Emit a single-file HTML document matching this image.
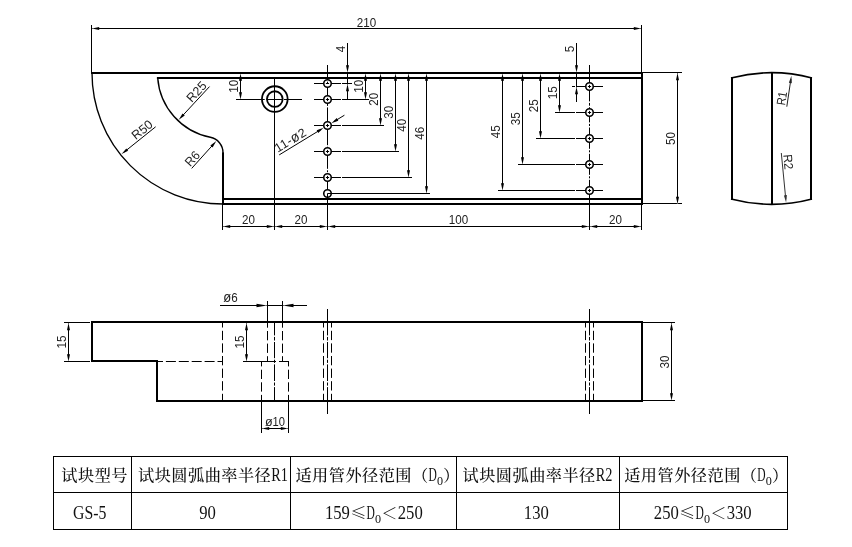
<!DOCTYPE html>
<html lang="zh-CN">
<head>
<meta charset="utf-8">
<title>试块 GS-5</title>
<style>
html,body{margin:0;padding:0;background:#fff;}
body{width:852px;height:547px;overflow:hidden;}
svg{display:block;will-change:transform;}
text{white-space:pre;}
</style>
</head>
<body>
<svg width="852" height="547" viewBox="0 0 852 547">
<rect x="0" y="0" width="852" height="547" fill="#fff"/>
<path d="M92,73 A131.0,131.0 0 0 0 223,204" stroke="#000" stroke-width="1.35" fill="none"/>
<path d="M157.69,78 A65.5,65.5 0 0 0 210.34,137.26 A15.7,15.7 0 0 1 223.00,152.67" stroke="#000" stroke-width="1.4" fill="none"/>
<line x1="91.5" y1="25" x2="91.5" y2="72" stroke="#000" stroke-width="1"/>
<line x1="641.5" y1="25" x2="641.5" y2="72" stroke="#000" stroke-width="1"/>
<line x1="92" y1="28.5" x2="641" y2="28.5" stroke="#000" stroke-width="1"/>
<text transform="translate(366.50 26.60) scale(0.93 1)" font-family='"Liberation Sans", sans-serif' font-size="12.5" fill="#222" text-anchor="middle">210</text>
<circle cx="274.80" cy="99.10" r="12.85" stroke="#000" stroke-width="1.8" fill="none"/>
<circle cx="274.80" cy="99.10" r="7.85" stroke="#000" stroke-width="1.8" fill="none"/>
<line x1="236" y1="99.5" x2="264.7" y2="99.5" stroke="#000" stroke-width="1"/>
<line x1="266.5" y1="99.5" x2="282.2" y2="99.5" stroke="#000" stroke-width="1"/>
<line x1="284" y1="99.5" x2="302" y2="99.5" stroke="#000" stroke-width="1"/>
<line x1="274.5" y1="79" x2="274.5" y2="230" stroke="#000" stroke-width="1"/>
<line x1="240.5" y1="73" x2="240.5" y2="99" stroke="#000" stroke-width="1"/>
<text transform="translate(238.20 86.30) rotate(-90.00) scale(0.93 1)" font-family='"Liberation Sans", sans-serif' font-size="12.5" fill="#222" text-anchor="middle">10</text>
<line x1="327.5" y1="65" x2="327.5" y2="230" stroke="#000" stroke-width="1"/>
<line x1="589.5" y1="65" x2="589.5" y2="230" stroke="#000" stroke-width="1"/>
<rect x="326.5" y="105.9" width="2" height="1.5" fill="#fff"/>
<rect x="326.5" y="145.2" width="2" height="1.5" fill="#fff"/>
<rect x="326.5" y="168.8" width="2" height="1.5" fill="#fff"/>
<rect x="326.5" y="172.2" width="2" height="1.5" fill="#fff"/>
<rect x="588.5" y="101.4" width="2" height="1.5" fill="#fff"/>
<rect x="588.5" y="105.7" width="2" height="1.5" fill="#fff"/>
<rect x="588.5" y="122.4" width="2" height="1.5" fill="#fff"/>
<rect x="588.5" y="126" width="2" height="1.5" fill="#fff"/>
<rect x="588.5" y="148.8" width="2" height="1.5" fill="#fff"/>
<rect x="588.5" y="152.3" width="2" height="1.5" fill="#fff"/>
<rect x="588.5" y="174.8" width="2" height="1.5" fill="#fff"/>
<rect x="588.5" y="178.3" width="2" height="1.5" fill="#fff"/>
<line x1="314" y1="83.5" x2="341" y2="83.5" stroke="#000" stroke-width="1"/>
<line x1="314" y1="99.5" x2="341" y2="99.5" stroke="#000" stroke-width="1"/>
<line x1="314" y1="125.5" x2="341" y2="125.5" stroke="#000" stroke-width="1"/>
<line x1="314" y1="151.5" x2="341" y2="151.5" stroke="#000" stroke-width="1"/>
<line x1="314" y1="177.5" x2="341" y2="177.5" stroke="#000" stroke-width="1"/>
<line x1="576" y1="86.5" x2="603" y2="86.5" stroke="#000" stroke-width="1"/>
<line x1="576" y1="112.5" x2="603" y2="112.5" stroke="#000" stroke-width="1"/>
<line x1="576" y1="138.5" x2="603" y2="138.5" stroke="#000" stroke-width="1"/>
<line x1="576" y1="164.5" x2="603" y2="164.5" stroke="#000" stroke-width="1"/>
<line x1="576" y1="190.5" x2="603" y2="190.5" stroke="#000" stroke-width="1"/>
<circle cx="327.5" cy="83.5" r="3.75" stroke="#000" stroke-width="1.6" fill="#fff"/>
<path d="M325.9,83.5 H329.1 M327.5,81.7 V83.5" stroke="#000" stroke-width="1" fill="none"/>
<circle cx="327.5" cy="99.5" r="3.75" stroke="#000" stroke-width="1.6" fill="#fff"/>
<path d="M325.9,99.5 H329.1 M327.5,97.9 V101.1" stroke="#000" stroke-width="1" fill="none"/>
<circle cx="327.5" cy="125.5" r="3.75" stroke="#000" stroke-width="1.6" fill="#fff"/>
<path d="M325.9,125.5 H329.1 M327.5,123.9 V127.1" stroke="#000" stroke-width="1" fill="none"/>
<circle cx="327.5" cy="151.5" r="3.75" stroke="#000" stroke-width="1.6" fill="#fff"/>
<path d="M325.9,151.5 H329.1 M327.5,149.9 V153.1" stroke="#000" stroke-width="1" fill="none"/>
<circle cx="327.5" cy="177.5" r="3.75" stroke="#000" stroke-width="1.6" fill="#fff"/>
<path d="M325.9,177.5 H329.1 M327.5,175.9 V179.1" stroke="#000" stroke-width="1" fill="none"/>
<circle cx="327.5" cy="193.5" r="3.75" stroke="#000" stroke-width="1.6" fill="#fff"/>
<path d="M327.5,193.5 H331.5 M327.5,193.5 V197.5" stroke="#000" stroke-width="1" fill="none"/>
<circle cx="589.5" cy="86.5" r="3.75" stroke="#000" stroke-width="1.6" fill="#fff"/>
<path d="M587.9,86.5 H591.1 M589.5,84.9 V88.1" stroke="#000" stroke-width="1" fill="none"/>
<circle cx="589.5" cy="112.5" r="3.75" stroke="#000" stroke-width="1.6" fill="#fff"/>
<path d="M587.9,112.5 H591.1 M589.5,110.9 V114.1" stroke="#000" stroke-width="1" fill="none"/>
<circle cx="589.5" cy="138.5" r="3.75" stroke="#000" stroke-width="1.6" fill="#fff"/>
<path d="M587.9,138.5 H591.1 M589.5,136.9 V140.1" stroke="#000" stroke-width="1" fill="none"/>
<circle cx="589.5" cy="164.5" r="3.75" stroke="#000" stroke-width="1.6" fill="#fff"/>
<path d="M587.9,164.5 H591.1 M589.5,162.9 V166.1" stroke="#000" stroke-width="1" fill="none"/>
<circle cx="589.5" cy="190.5" r="3.75" stroke="#000" stroke-width="1.6" fill="#fff"/>
<path d="M587.9,190.5 H591.1 M589.5,188.9 V192.1" stroke="#000" stroke-width="1" fill="none"/>
<line x1="342" y1="99.5" x2="369" y2="99.5" stroke="#000" stroke-width="1"/>
<line x1="365.5" y1="73" x2="365.5" y2="99" stroke="#000" stroke-width="1"/>
<text transform="translate(363.20 86.25) rotate(-90.00) scale(0.93 1)" font-family='"Liberation Sans", sans-serif' font-size="12.5" fill="#222" text-anchor="middle">10</text>
<line x1="342" y1="125.5" x2="384" y2="125.5" stroke="#000" stroke-width="1"/>
<line x1="380.5" y1="73" x2="380.5" y2="125" stroke="#000" stroke-width="1"/>
<text transform="translate(378.20 99.25) rotate(-90.00) scale(0.93 1)" font-family='"Liberation Sans", sans-serif' font-size="12.5" fill="#222" text-anchor="middle">20</text>
<line x1="342" y1="151.5" x2="399" y2="151.5" stroke="#000" stroke-width="1"/>
<line x1="395.5" y1="73" x2="395.5" y2="151" stroke="#000" stroke-width="1"/>
<text transform="translate(393.20 112.25) rotate(-90.00) scale(0.93 1)" font-family='"Liberation Sans", sans-serif' font-size="12.5" fill="#222" text-anchor="middle">30</text>
<line x1="342" y1="177.5" x2="412" y2="177.5" stroke="#000" stroke-width="1"/>
<line x1="408.5" y1="73" x2="408.5" y2="177" stroke="#000" stroke-width="1"/>
<text transform="translate(406.20 125.25) rotate(-90.00) scale(0.93 1)" font-family='"Liberation Sans", sans-serif' font-size="12.5" fill="#222" text-anchor="middle">40</text>
<line x1="331" y1="193.5" x2="430" y2="193.5" stroke="#000" stroke-width="1"/>
<line x1="426.5" y1="73" x2="426.5" y2="193" stroke="#000" stroke-width="1"/>
<text transform="translate(424.20 133.25) rotate(-90.00) scale(0.93 1)" font-family='"Liberation Sans", sans-serif' font-size="12.5" fill="#222" text-anchor="middle">46</text>
<line x1="342" y1="83.5" x2="352" y2="83.5" stroke="#000" stroke-width="1"/>
<line x1="347.5" y1="43" x2="347.5" y2="100" stroke="#000" stroke-width="1"/>
<text transform="translate(345.00 49.00) rotate(-90.00) scale(0.93 1)" font-family='"Liberation Sans", sans-serif' font-size="12.5" fill="#222" text-anchor="middle">4</text>
<line x1="555" y1="112.5" x2="575" y2="112.5" stroke="#000" stroke-width="1"/>
<line x1="559.5" y1="73" x2="559.5" y2="112" stroke="#000" stroke-width="1"/>
<text transform="translate(557.20 92.75) rotate(-90.00) scale(0.93 1)" font-family='"Liberation Sans", sans-serif' font-size="12.5" fill="#222" text-anchor="middle">15</text>
<line x1="536" y1="138.5" x2="575" y2="138.5" stroke="#000" stroke-width="1"/>
<line x1="540.5" y1="73" x2="540.5" y2="138" stroke="#000" stroke-width="1"/>
<text transform="translate(538.20 105.75) rotate(-90.00) scale(0.93 1)" font-family='"Liberation Sans", sans-serif' font-size="12.5" fill="#222" text-anchor="middle">25</text>
<line x1="518" y1="164.5" x2="575" y2="164.5" stroke="#000" stroke-width="1"/>
<line x1="522.5" y1="73" x2="522.5" y2="164" stroke="#000" stroke-width="1"/>
<text transform="translate(520.20 118.75) rotate(-90.00) scale(0.93 1)" font-family='"Liberation Sans", sans-serif' font-size="12.5" fill="#222" text-anchor="middle">35</text>
<line x1="498" y1="190.5" x2="575" y2="190.5" stroke="#000" stroke-width="1"/>
<line x1="502.5" y1="73" x2="502.5" y2="190" stroke="#000" stroke-width="1"/>
<text transform="translate(500.20 131.75) rotate(-90.00) scale(0.93 1)" font-family='"Liberation Sans", sans-serif' font-size="12.5" fill="#222" text-anchor="middle">45</text>
<line x1="572" y1="86.5" x2="575" y2="86.5" stroke="#000" stroke-width="1"/>
<line x1="576.5" y1="43" x2="576.5" y2="102" stroke="#000" stroke-width="1"/>
<text transform="translate(574.00 49.00) rotate(-90.00) scale(0.93 1)" font-family='"Liberation Sans", sans-serif' font-size="12.5" fill="#222" text-anchor="middle">5</text>
<line x1="222.5" y1="205" x2="222.5" y2="230" stroke="#000" stroke-width="1"/>
<line x1="641.5" y1="205" x2="641.5" y2="230" stroke="#000" stroke-width="1"/>
<line x1="223" y1="226.5" x2="641" y2="226.5" stroke="#000" stroke-width="1"/>
<text transform="translate(248.50 224.20) scale(0.93 1)" font-family='"Liberation Sans", sans-serif' font-size="12.5" fill="#222" text-anchor="middle">20</text>
<text transform="translate(301.00 224.20) scale(0.93 1)" font-family='"Liberation Sans", sans-serif' font-size="12.5" fill="#222" text-anchor="middle">20</text>
<text transform="translate(458.50 224.20) scale(0.93 1)" font-family='"Liberation Sans", sans-serif' font-size="12.5" fill="#222" text-anchor="middle">100</text>
<text transform="translate(615.50 224.20) scale(0.93 1)" font-family='"Liberation Sans", sans-serif' font-size="12.5" fill="#222" text-anchor="middle">20</text>
<line x1="643" y1="72.5" x2="682" y2="72.5" stroke="#000" stroke-width="1"/>
<line x1="643" y1="203.5" x2="682" y2="203.5" stroke="#000" stroke-width="1"/>
<line x1="677.5" y1="73" x2="677.5" y2="204" stroke="#000" stroke-width="1"/>
<text transform="translate(675.20 138.50) rotate(-90.00) scale(0.93 1)" font-family='"Liberation Sans", sans-serif' font-size="12.5" fill="#222" text-anchor="middle">50</text>
<line x1="209.50" y1="86.60" x2="180.92" y2="117.45" stroke="#000" stroke-width="1"/>
<text transform="translate(207.36 86.26) rotate(312.81)" font-family='"Liberation Sans", sans-serif' font-size="12.5" fill="#222" text-anchor="end">R25</text>
<line x1="155.65" y1="126.80" x2="124.10" y2="152.10" stroke="#000" stroke-width="1"/>
<text transform="translate(153.74 126.02) rotate(321.28)" font-family='"Liberation Sans", sans-serif' font-size="12.5" fill="#222" text-anchor="end">R50</text>
<line x1="191.70" y1="168.40" x2="214.16" y2="143.48" stroke="#000" stroke-width="1"/>
<text transform="translate(190.36 167.20) rotate(-47.98) scale(0.97 1)" font-family='"Liberation Sans", sans-serif' font-size="12.5" fill="#222" text-anchor="start">R6</text>
<line x1="279.20" y1="154.90" x2="320.88" y2="129.53" stroke="#000" stroke-width="1"/>
<line x1="334.12" y1="121.47" x2="344.41" y2="115.21" stroke="#000" stroke-width="1"/>
<text transform="translate(277.85 152.68) rotate(-31.33)" font-family='"Liberation Sans", sans-serif' font-size="12.5" fill="#222" text-anchor="start" letter-spacing="0.4">11-<tspan font-size="14">ø</tspan>2</text>
<path d="M731,78 A158.53,158.53 0 0 1 812,78" stroke="#000" stroke-width="1.6" fill="none"/>
<path d="M731,199 A158.53,158.53 0 0 0 812,199" stroke="#000" stroke-width="1.6" fill="none"/>
<line x1="786.80" y1="106.70" x2="790.93" y2="78.97" stroke="#222" stroke-width="1"/>
<text transform="translate(785.11 105.84) rotate(-81.53) scale(0.86 1)" font-family='"Liberation Sans", sans-serif' font-size="12.5" fill="#222" text-anchor="start">R1</text>
<line x1="781.30" y1="153.00" x2="785.79" y2="199.21" stroke="#333" stroke-width="1"/>
<text transform="translate(783.28 154.82) rotate(84.45) scale(0.95 1)" font-family='"Liberation Sans", sans-serif' font-size="12.5" fill="#222" text-anchor="start">R2</text>
<path d="M157,401 L642,401 L642,322 L92,322 L92,361 L157,361 Z" stroke="#000" stroke-width="2" fill="none"/>
<line x1="158" y1="361.5" x2="222" y2="361.5" stroke="#000" stroke-width="1" stroke-dasharray="10 2.9" stroke-dashoffset="5"/>
<line x1="222.5" y1="323" x2="222.5" y2="400" stroke="#000" stroke-width="1" stroke-dasharray="9.3 3.3" stroke-dashoffset="4.80"/>
<line x1="267.5" y1="323" x2="267.5" y2="361" stroke="#000" stroke-width="1" stroke-dasharray="9.3 3.3" stroke-dashoffset="4.60"/>
<line x1="282.5" y1="323" x2="282.5" y2="361" stroke="#000" stroke-width="1" stroke-dasharray="9.3 3.3" stroke-dashoffset="4.60"/>
<line x1="261.5" y1="361" x2="261.5" y2="400" stroke="#000" stroke-width="1" stroke-dasharray="9.3 3.3" stroke-dashoffset="3.90"/>
<line x1="288.5" y1="361" x2="288.5" y2="400" stroke="#000" stroke-width="1" stroke-dasharray="9.3 3.3" stroke-dashoffset="3.90"/>
<line x1="243" y1="361.5" x2="276" y2="361.5" stroke="#000" stroke-width="1"/>
<line x1="279" y1="361.5" x2="289" y2="361.5" stroke="#000" stroke-width="1"/>
<line x1="274.5" y1="323" x2="274.5" y2="400" stroke="#000" stroke-width="1"/>
<rect x="273.5" y="335.4" width="2" height="1.5" fill="#fff"/>
<rect x="273.5" y="340.5" width="2" height="1.5" fill="#fff"/>
<rect x="273.5" y="358.2" width="2" height="1.5" fill="#fff"/>
<rect x="273.5" y="362.9" width="2" height="1.5" fill="#fff"/>
<rect x="273.5" y="381" width="2" height="1.5" fill="#fff"/>
<rect x="273.5" y="385.6" width="2" height="1.5" fill="#fff"/>
<line x1="267.5" y1="301" x2="267.5" y2="321" stroke="#000" stroke-width="1"/>
<line x1="282.5" y1="301" x2="282.5" y2="321" stroke="#000" stroke-width="1"/>
<line x1="220" y1="305.5" x2="307" y2="305.5" stroke="#000" stroke-width="1"/>
<text transform="translate(230.50 302.30) scale(0.93 1)" font-family='"Liberation Sans", sans-serif' font-size="12.5" fill="#222" text-anchor="middle"><tspan font-size="14">ø</tspan>6</text>
<line x1="246.5" y1="323" x2="246.5" y2="361" stroke="#000" stroke-width="1"/>
<text transform="translate(244.20 342.00) rotate(-90.00) scale(0.93 1)" font-family='"Liberation Sans", sans-serif' font-size="12.5" fill="#222" text-anchor="middle">15</text>
<line x1="261.5" y1="402" x2="261.5" y2="433" stroke="#000" stroke-width="1"/>
<line x1="288.5" y1="402" x2="288.5" y2="433" stroke="#000" stroke-width="1"/>
<line x1="262" y1="428.5" x2="288" y2="428.5" stroke="#000" stroke-width="1"/>
<text transform="translate(275.00 426.30) scale(0.93 1)" font-family='"Liberation Sans", sans-serif' font-size="12" fill="#222" text-anchor="middle"><tspan font-size="13.5">ø</tspan>10</text>
<line x1="64" y1="322.5" x2="90" y2="322.5" stroke="#000" stroke-width="1"/>
<line x1="64" y1="361.5" x2="90" y2="361.5" stroke="#000" stroke-width="1"/>
<line x1="68.5" y1="323" x2="68.5" y2="361" stroke="#000" stroke-width="1"/>
<text transform="translate(66.20 342.00) rotate(-90.00) scale(0.93 1)" font-family='"Liberation Sans", sans-serif' font-size="12.5" fill="#222" text-anchor="middle">15</text>
<line x1="327.5" y1="309" x2="327.5" y2="414" stroke="#000" stroke-width="1"/>
<rect x="326.5" y="335.4" width="2" height="1.5" fill="#fff"/>
<rect x="326.5" y="340.5" width="2" height="1.5" fill="#fff"/>
<rect x="326.5" y="358.2" width="2" height="1.5" fill="#fff"/>
<rect x="326.5" y="362.9" width="2" height="1.5" fill="#fff"/>
<rect x="326.5" y="381" width="2" height="1.5" fill="#fff"/>
<rect x="326.5" y="385.6" width="2" height="1.5" fill="#fff"/>
<line x1="323.5" y1="323" x2="323.5" y2="400" stroke="#000" stroke-width="1" stroke-dasharray="9.3 3.3" stroke-dashoffset="4.80"/>
<line x1="331.5" y1="323" x2="331.5" y2="400" stroke="#000" stroke-width="1" stroke-dasharray="9.3 3.3" stroke-dashoffset="4.80"/>
<line x1="589.5" y1="309" x2="589.5" y2="414" stroke="#000" stroke-width="1"/>
<rect x="588.5" y="335.4" width="2" height="1.5" fill="#fff"/>
<rect x="588.5" y="340.5" width="2" height="1.5" fill="#fff"/>
<rect x="588.5" y="358.2" width="2" height="1.5" fill="#fff"/>
<rect x="588.5" y="362.9" width="2" height="1.5" fill="#fff"/>
<rect x="588.5" y="381" width="2" height="1.5" fill="#fff"/>
<rect x="588.5" y="385.6" width="2" height="1.5" fill="#fff"/>
<line x1="585.5" y1="323" x2="585.5" y2="400" stroke="#000" stroke-width="1" stroke-dasharray="9.3 3.3" stroke-dashoffset="4.80"/>
<line x1="593.5" y1="323" x2="593.5" y2="400" stroke="#000" stroke-width="1" stroke-dasharray="9.3 3.3" stroke-dashoffset="4.80"/>
<line x1="643" y1="322.5" x2="675" y2="322.5" stroke="#000" stroke-width="1"/>
<line x1="643" y1="400.5" x2="675" y2="400.5" stroke="#000" stroke-width="1"/>
<line x1="671.5" y1="323" x2="671.5" y2="400" stroke="#000" stroke-width="1"/>
<text transform="translate(669.20 362.00) rotate(-90.00) scale(0.93 1)" font-family='"Liberation Sans", sans-serif' font-size="12.5" fill="#222" text-anchor="middle">30</text>
<line x1="53" y1="456.5" x2="788" y2="456.5" stroke="#000" stroke-width="1"/>
<line x1="53" y1="492.5" x2="788" y2="492.5" stroke="#000" stroke-width="1"/>
<line x1="53" y1="529.5" x2="788" y2="529.5" stroke="#000" stroke-width="1"/>
<line x1="53.5" y1="456" x2="53.5" y2="530" stroke="#000" stroke-width="1"/>
<line x1="131.5" y1="456" x2="131.5" y2="530" stroke="#000" stroke-width="1"/>
<line x1="290.5" y1="456" x2="290.5" y2="530" stroke="#000" stroke-width="1"/>
<line x1="456.5" y1="456" x2="456.5" y2="530" stroke="#000" stroke-width="1"/>
<line x1="619.5" y1="456" x2="619.5" y2="530" stroke="#000" stroke-width="1"/>
<line x1="787.5" y1="456" x2="787.5" y2="530" stroke="#000" stroke-width="1"/>
<text x="61.33" y="480.90" font-family='"Liberation Serif", "Noto Serif CJK SC", serif' font-size="16.2" letter-spacing="0.467" fill="#111" font-weight="500">试块型号</text>
<text x="138.03" y="480.90" font-family='"Liberation Serif", "Noto Serif CJK SC", serif' font-size="16.2" letter-spacing="0.467" fill="#111" font-weight="500">试块圆弧曲率半径</text>
<text transform="translate(271.14 480.90) scale(0.7847 1)" x="0" y="0" font-family='"Liberation Serif", "Noto Serif CJK SC", serif' font-size="18.2" fill="#111">R1</text>
<text x="295.43" y="480.90" font-family='"Liberation Serif", "Noto Serif CJK SC", serif' font-size="16.2" letter-spacing="0.467" fill="#111" font-weight="500">适用管外径范围（</text>
<text transform="translate(428.54 480.90) scale(0.6342 1)" x="0" y="0" font-family='"Liberation Serif", "Noto Serif CJK SC", serif' font-size="18.2" fill="#111">D</text>
<text transform="translate(437.07 485.00) scale(0.9 1)" x="0" y="0" font-family='"Liberation Serif", "Noto Serif CJK SC", serif' font-size="13.5" fill="#111">0</text>
<text x="443.30" y="480.90" font-family='"Liberation Serif", "Noto Serif CJK SC", serif' font-size="16.2" letter-spacing="0.467" fill="#111" font-weight="500">）</text>
<text x="462.53" y="480.90" font-family='"Liberation Serif", "Noto Serif CJK SC", serif' font-size="16.2" letter-spacing="0.467" fill="#111" font-weight="500">试块圆弧曲率半径</text>
<text transform="translate(595.64 480.90) scale(0.7847 1)" x="0" y="0" font-family='"Liberation Serif", "Noto Serif CJK SC", serif' font-size="18.2" fill="#111">R2</text>
<text x="624.23" y="480.90" font-family='"Liberation Serif", "Noto Serif CJK SC", serif' font-size="16.2" letter-spacing="0.467" fill="#111" font-weight="500">适用管外径范围（</text>
<text transform="translate(757.34 480.90) scale(0.6342 1)" x="0" y="0" font-family='"Liberation Serif", "Noto Serif CJK SC", serif' font-size="18.2" fill="#111">D</text>
<text transform="translate(765.87 485.00) scale(0.9 1)" x="0" y="0" font-family='"Liberation Serif", "Noto Serif CJK SC", serif' font-size="13.5" fill="#111">0</text>
<text x="772.10" y="480.90" font-family='"Liberation Serif", "Noto Serif CJK SC", serif' font-size="16.2" letter-spacing="0.467" fill="#111" font-weight="500">）</text>
<text transform="translate(73.00 518.90) scale(0.8676 1)" x="0" y="0" font-family='"Liberation Serif", "Noto Serif CJK SC", serif' font-size="18.2" fill="#111">GS-5</text>
<text transform="translate(199.20 518.90) scale(0.9158 1)" x="0" y="0" font-family='"Liberation Serif", "Noto Serif CJK SC", serif' font-size="18.2" fill="#111">90</text>
<text transform="translate(324.90 518.90) scale(0.9158 1)" x="0" y="0" font-family='"Liberation Serif", "Noto Serif CJK SC", serif' font-size="18.2" fill="#111">159</text>
<text x="350.13" y="518.90" font-family='"Noto Serif CJK SC", "Liberation Serif", serif' font-size="16.2" letter-spacing="0.467" fill="#111" font-weight="500">≤</text>
<text transform="translate(366.57 518.90) scale(0.6342 1)" x="0" y="0" font-family='"Liberation Serif", "Noto Serif CJK SC", serif' font-size="18.2" fill="#111">D</text>
<text transform="translate(375.10 523.00) scale(0.9 1)" x="0" y="0" font-family='"Liberation Serif", "Noto Serif CJK SC", serif' font-size="13.5" fill="#111">0</text>
<text x="381.33" y="518.90" font-family='"Liberation Serif", "Noto Serif CJK SC", serif' font-size="16.2" letter-spacing="0.467" fill="#111" font-weight="500">＜</text>
<text transform="translate(397.77 518.90) scale(0.9158 1)" x="0" y="0" font-family='"Liberation Serif", "Noto Serif CJK SC", serif' font-size="18.2" fill="#111">250</text>
<text transform="translate(523.80 518.90) scale(0.9158 1)" x="0" y="0" font-family='"Liberation Serif", "Noto Serif CJK SC", serif' font-size="18.2" fill="#111">130</text>
<text transform="translate(653.80 518.90) scale(0.9158 1)" x="0" y="0" font-family='"Liberation Serif", "Noto Serif CJK SC", serif' font-size="18.2" fill="#111">250</text>
<text x="679.03" y="518.90" font-family='"Noto Serif CJK SC", "Liberation Serif", serif' font-size="16.2" letter-spacing="0.467" fill="#111" font-weight="500">≤</text>
<text transform="translate(695.47 518.90) scale(0.6342 1)" x="0" y="0" font-family='"Liberation Serif", "Noto Serif CJK SC", serif' font-size="18.2" fill="#111">D</text>
<text transform="translate(704.00 523.00) scale(0.9 1)" x="0" y="0" font-family='"Liberation Serif", "Noto Serif CJK SC", serif' font-size="13.5" fill="#111">0</text>
<text x="710.23" y="518.90" font-family='"Liberation Serif", "Noto Serif CJK SC", serif' font-size="16.2" letter-spacing="0.467" fill="#111" font-weight="500">＜</text>
<text transform="translate(726.67 518.90) scale(0.9158 1)" x="0" y="0" font-family='"Liberation Serif", "Noto Serif CJK SC", serif' font-size="18.2" fill="#111">330</text>
<line x1="92.50" y1="28.50" x2="95.40" y2="28.50" stroke="#fff" stroke-width="1.2"/>
<line x1="640.50" y1="28.50" x2="637.60" y2="28.50" stroke="#fff" stroke-width="1.2"/>
<line x1="240.50" y1="74.00" x2="240.50" y2="76.90" stroke="#fff" stroke-width="1.2"/>
<line x1="240.50" y1="99.00" x2="240.50" y2="96.10" stroke="#fff" stroke-width="1.2"/>
<line x1="365.50" y1="74.00" x2="365.50" y2="76.90" stroke="#fff" stroke-width="1.2"/>
<line x1="365.50" y1="99.00" x2="365.50" y2="96.10" stroke="#fff" stroke-width="1.2"/>
<line x1="380.50" y1="74.00" x2="380.50" y2="76.90" stroke="#fff" stroke-width="1.2"/>
<line x1="380.50" y1="125.00" x2="380.50" y2="122.10" stroke="#fff" stroke-width="1.2"/>
<line x1="395.50" y1="74.00" x2="395.50" y2="76.90" stroke="#fff" stroke-width="1.2"/>
<line x1="395.50" y1="151.00" x2="395.50" y2="148.10" stroke="#fff" stroke-width="1.2"/>
<line x1="408.50" y1="74.00" x2="408.50" y2="76.90" stroke="#fff" stroke-width="1.2"/>
<line x1="408.50" y1="177.00" x2="408.50" y2="174.10" stroke="#fff" stroke-width="1.2"/>
<line x1="426.50" y1="74.00" x2="426.50" y2="76.90" stroke="#fff" stroke-width="1.2"/>
<line x1="426.50" y1="193.00" x2="426.50" y2="190.10" stroke="#fff" stroke-width="1.2"/>
<line x1="347.50" y1="72.00" x2="347.50" y2="69.10" stroke="#fff" stroke-width="1.2"/>
<line x1="347.50" y1="84.50" x2="347.50" y2="87.40" stroke="#fff" stroke-width="1.2"/>
<line x1="559.50" y1="74.00" x2="559.50" y2="76.90" stroke="#fff" stroke-width="1.2"/>
<line x1="559.50" y1="112.00" x2="559.50" y2="109.10" stroke="#fff" stroke-width="1.2"/>
<line x1="540.50" y1="74.00" x2="540.50" y2="76.90" stroke="#fff" stroke-width="1.2"/>
<line x1="540.50" y1="138.00" x2="540.50" y2="135.10" stroke="#fff" stroke-width="1.2"/>
<line x1="522.50" y1="74.00" x2="522.50" y2="76.90" stroke="#fff" stroke-width="1.2"/>
<line x1="522.50" y1="164.00" x2="522.50" y2="161.10" stroke="#fff" stroke-width="1.2"/>
<line x1="502.50" y1="74.00" x2="502.50" y2="76.90" stroke="#fff" stroke-width="1.2"/>
<line x1="502.50" y1="190.00" x2="502.50" y2="187.10" stroke="#fff" stroke-width="1.2"/>
<line x1="576.50" y1="72.00" x2="576.50" y2="69.10" stroke="#fff" stroke-width="1.2"/>
<line x1="576.50" y1="87.50" x2="576.50" y2="90.40" stroke="#fff" stroke-width="1.2"/>
<line x1="223.50" y1="226.50" x2="226.40" y2="226.50" stroke="#fff" stroke-width="1.2"/>
<line x1="273.50" y1="226.50" x2="270.60" y2="226.50" stroke="#fff" stroke-width="1.2"/>
<line x1="275.50" y1="226.50" x2="278.40" y2="226.50" stroke="#fff" stroke-width="1.2"/>
<line x1="326.50" y1="226.50" x2="323.60" y2="226.50" stroke="#fff" stroke-width="1.2"/>
<line x1="328.50" y1="226.50" x2="331.40" y2="226.50" stroke="#fff" stroke-width="1.2"/>
<line x1="588.50" y1="226.50" x2="585.60" y2="226.50" stroke="#fff" stroke-width="1.2"/>
<line x1="590.50" y1="226.50" x2="593.40" y2="226.50" stroke="#fff" stroke-width="1.2"/>
<line x1="640.50" y1="226.50" x2="637.60" y2="226.50" stroke="#fff" stroke-width="1.2"/>
<line x1="677.50" y1="73.50" x2="677.50" y2="76.40" stroke="#fff" stroke-width="1.2"/>
<line x1="677.50" y1="203.50" x2="677.50" y2="200.60" stroke="#fff" stroke-width="1.2"/>
<line x1="266.50" y1="305.50" x2="263.60" y2="305.50" stroke="#fff" stroke-width="1.2"/>
<line x1="283.50" y1="305.50" x2="286.40" y2="305.50" stroke="#fff" stroke-width="1.2"/>
<line x1="246.50" y1="323.50" x2="246.50" y2="326.40" stroke="#fff" stroke-width="1.2"/>
<line x1="246.50" y1="361.00" x2="246.50" y2="358.10" stroke="#fff" stroke-width="1.2"/>
<line x1="262.50" y1="428.50" x2="265.40" y2="428.50" stroke="#fff" stroke-width="1.2"/>
<line x1="287.50" y1="428.50" x2="284.60" y2="428.50" stroke="#fff" stroke-width="1.2"/>
<line x1="68.50" y1="323.50" x2="68.50" y2="326.40" stroke="#fff" stroke-width="1.2"/>
<line x1="68.50" y1="361.00" x2="68.50" y2="358.10" stroke="#fff" stroke-width="1.2"/>
<line x1="671.50" y1="323.50" x2="671.50" y2="326.40" stroke="#fff" stroke-width="1.2"/>
<line x1="671.50" y1="400.00" x2="671.50" y2="397.10" stroke="#fff" stroke-width="1.2"/>
<polygon points="92.00,28.50 99.20,27.00 99.20,30.00" fill="#000"/>
<polygon points="641.00,28.50 633.80,30.00 633.80,27.00" fill="#000"/>
<polygon points="240.50,73.50 242.00,80.70 239.00,80.70" fill="#000"/>
<polygon points="240.50,99.50 239.00,92.30 242.00,92.30" fill="#000"/>
<polygon points="365.50,73.50 367.00,80.70 364.00,80.70" fill="#000"/>
<polygon points="365.50,99.50 364.00,92.30 367.00,92.30" fill="#000"/>
<polygon points="380.50,73.50 382.00,80.70 379.00,80.70" fill="#000"/>
<polygon points="380.50,125.50 379.00,118.30 382.00,118.30" fill="#000"/>
<polygon points="395.50,73.50 397.00,80.70 394.00,80.70" fill="#000"/>
<polygon points="395.50,151.50 394.00,144.30 397.00,144.30" fill="#000"/>
<polygon points="408.50,73.50 410.00,80.70 407.00,80.70" fill="#000"/>
<polygon points="408.50,177.50 407.00,170.30 410.00,170.30" fill="#000"/>
<polygon points="426.50,73.50 428.00,80.70 425.00,80.70" fill="#000"/>
<polygon points="426.50,193.50 425.00,186.30 428.00,186.30" fill="#000"/>
<polygon points="347.50,72.50 346.00,65.30 349.00,65.30" fill="#000"/>
<polygon points="347.50,84.00 349.00,91.20 346.00,91.20" fill="#000"/>
<polygon points="559.50,73.50 561.00,80.70 558.00,80.70" fill="#000"/>
<polygon points="559.50,112.50 558.00,105.30 561.00,105.30" fill="#000"/>
<polygon points="540.50,73.50 542.00,80.70 539.00,80.70" fill="#000"/>
<polygon points="540.50,138.50 539.00,131.30 542.00,131.30" fill="#000"/>
<polygon points="522.50,73.50 524.00,80.70 521.00,80.70" fill="#000"/>
<polygon points="522.50,164.50 521.00,157.30 524.00,157.30" fill="#000"/>
<polygon points="502.50,73.50 504.00,80.70 501.00,80.70" fill="#000"/>
<polygon points="502.50,190.50 501.00,183.30 504.00,183.30" fill="#000"/>
<polygon points="576.50,72.50 575.00,65.30 578.00,65.30" fill="#000"/>
<polygon points="576.50,87.00 578.00,94.20 575.00,94.20" fill="#000"/>
<polygon points="223.00,226.50 230.20,225.00 230.20,228.00" fill="#000"/>
<polygon points="274.00,226.50 266.80,228.00 266.80,225.00" fill="#000"/>
<polygon points="275.00,226.50 282.20,225.00 282.20,228.00" fill="#000"/>
<polygon points="327.00,226.50 319.80,228.00 319.80,225.00" fill="#000"/>
<polygon points="328.00,226.50 335.20,225.00 335.20,228.00" fill="#000"/>
<polygon points="589.00,226.50 581.80,228.00 581.80,225.00" fill="#000"/>
<polygon points="590.00,226.50 597.20,225.00 597.20,228.00" fill="#000"/>
<polygon points="641.00,226.50 633.80,228.00 633.80,225.00" fill="#000"/>
<polygon points="677.50,73.00 679.00,80.20 676.00,80.20" fill="#000"/>
<polygon points="677.50,204.00 676.00,196.80 679.00,196.80" fill="#000"/>
<polygon points="178.75,119.80 182.54,113.50 184.74,115.54" fill="#000"/>
<polygon points="121.60,154.10 126.28,148.43 128.16,150.77" fill="#000"/>
<polygon points="216.30,141.10 212.59,147.45 210.37,145.44" fill="#000"/>
<polygon points="323.61,127.87 318.24,132.89 316.68,130.33" fill="#000"/>
<polygon points="331.39,123.13 336.76,118.11 338.32,120.67" fill="#000"/>
<polygon points="791.40,75.80 791.82,83.14 788.86,82.70" fill="#222"/>
<polygon points="786.10,202.40 783.91,195.38 786.90,195.09" fill="#333"/>
<polygon points="267.00,305.50 256.50,307.20 256.50,303.80" fill="#000"/>
<polygon points="283.00,305.50 293.50,303.80 293.50,307.20" fill="#000"/>
<polygon points="246.50,323.00 248.00,330.20 245.00,330.20" fill="#000"/>
<polygon points="246.50,361.50 245.00,354.30 248.00,354.30" fill="#000"/>
<polygon points="262.00,428.50 269.20,427.00 269.20,430.00" fill="#000"/>
<polygon points="288.00,428.50 280.80,430.00 280.80,427.00" fill="#000"/>
<polygon points="68.50,323.00 70.00,330.20 67.00,330.20" fill="#000"/>
<polygon points="68.50,361.50 67.00,354.30 70.00,354.30" fill="#000"/>
<polygon points="671.50,323.00 673.00,330.20 670.00,330.20" fill="#000"/>
<polygon points="671.50,400.50 670.00,393.30 673.00,393.30" fill="#000"/>
<line x1="91" y1="73" x2="643" y2="73" stroke="#000" stroke-width="2"/>
<line x1="156.9" y1="78" x2="643" y2="78" stroke="#000" stroke-width="2"/>
<line x1="222" y1="199" x2="643" y2="199" stroke="#000" stroke-width="2"/>
<line x1="222" y1="204" x2="643" y2="204" stroke="#000" stroke-width="2"/>
<line x1="642" y1="72" x2="642" y2="205" stroke="#000" stroke-width="2"/>
<line x1="223" y1="152.168" x2="223" y2="205" stroke="#000" stroke-width="2"/>
<line x1="732" y1="77" x2="732" y2="200" stroke="#000" stroke-width="2"/>
<line x1="811" y1="77" x2="811" y2="200" stroke="#000" stroke-width="2"/>
<line x1="772" y1="72" x2="772" y2="205" stroke="#000" stroke-width="2"/>
</svg>
</body>
</html>
